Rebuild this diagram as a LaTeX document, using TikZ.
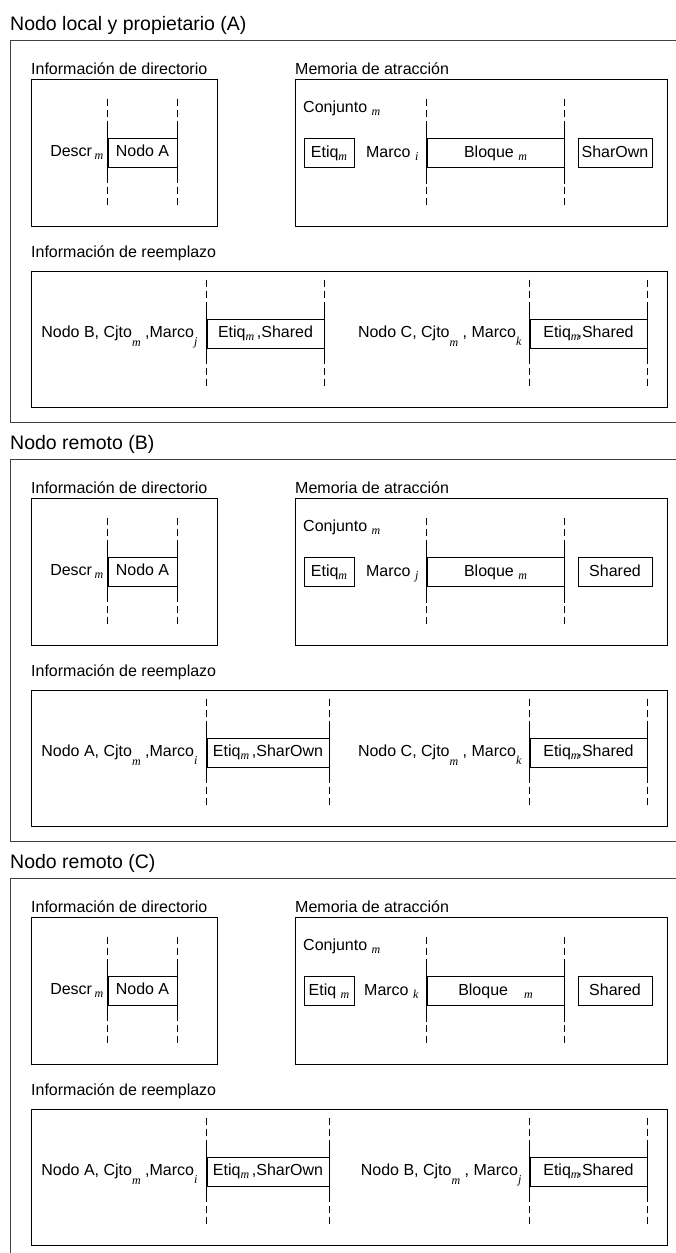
\documentclass[tikz,border=0pt]{standalone}
\usepackage{fontspec}
\setmainfont{Liberation Sans}
\newfontfamily\subfnt{Liberation Serif}
\usetikzlibrary{positioning}

\tikzset{
  marco/.style={draw=black!75, line width=1pt},
  caja/.style={draw, line width=0.8pt},
  celda/.style={draw, line width=0.8pt, minimum height=29pt, inner sep=0pt,
    text height=11.5pt, text depth=3.4pt},
  texto/.style={inner sep=0pt, text height=11.5pt, text depth=3.4pt},
  rotulo/.style={inner sep=0pt, anchor=west, text height=11.5pt, text depth=3.4pt},
  titulo/.style={inner sep=0pt, anchor=west, font=\fontsize{19.5}{23}\selectfont},
  guia/.style={line width=0.6pt, dash pattern=on 7pt off 4pt},
  lado/.style={line width=0.8pt}
}

% subindice rebajado, sin altura ni profundidad
\newcommand{\sbx}[2][3pt]{\raisebox{-#1}[0pt][0pt]{\subfnt\itshape\fontsize{12}{12}\selectfont #2}}
% lineas de trazos a los lados de una celda
\newcommand{\guias}[1]{%
  \draw[guia] ([yshift=39pt]#1.north west) -- ([yshift=-40pt]#1.south west);
  \draw[guia] ([yshift=39pt]#1.north east) -- ([yshift=-40pt]#1.south east);
  \draw[lado] ([yshift=16pt]#1.north west) -- ([yshift=-16pt]#1.south west);
  \draw[lado] ([yshift=16pt]#1.north east) -- ([yshift=-16pt]#1.south east);}

\begin{document}
\begin{tikzpicture}[x=1pt, y=-1pt, font=\fontsize{16}{19}\selectfont]
  \useasboundingbox (0,0) rectangle (676,1253);

  % Nodo A
  \begin{scope}[shift={(0,40)}]
    \node[titulo] (tA) at (10,-15) {Nodo local y propietario (A)};
    \draw[marco] (676,0) -- (10,0) -- (10,382) -- (676,382);

    \node[rotulo] (ldA) at (31,30) {Información de directorio};
    \draw[caja] (31,39) rectangle (217,186);
    \node[celda, minimum width=69pt] (nA) at (142.5,112.5) {Nodo A};
    \node[texto, left=4pt of nA] (dsA) {Descr\,\sbx{m}};
    \guias{nA}

    \node[rotulo] (lmA) at (295,30) {Memoria de atracción};
    \draw[caja] (295,39) rectangle (667,186);
    \node[texto, anchor=west] (cjA) at (303,68) {Conjunto\ \sbx{m}};
    \node[celda, minimum width=50pt] (etA) at (329,113) {Etiq\sbx{m}};
    \node[celda, minimum width=137pt] (blA) at (495.5,113) {Bloque\ \sbx{m}};
    \node[texto, left=8pt of blA] (mcA) {Marco\ \sbx{i}};
    \guias{blA}
    \node[celda, minimum width=74pt] (esA) at (615,113) {SharOwn};

    \node[rotulo] (lrA) at (31,213) {Información de reemplazo};
    \draw[caja] (31,231) rectangle (667,367);
    \node[celda, minimum width=117pt] (r1A) at (265.5,293.5) {Etiq\sbx{m}\,,Shared};
    \node[texto, left=9pt of r1A] (t1A) {Nodo B, Cjto\sbx[9pt]{m} ,Marco\sbx[8pt]{j}};
    \guias{r1A}
    \node[celda, minimum width=117pt] (r2A) at (588.5,293.5) {Etiq\sbx{m}\kern-2pt,Shared};
    \node[texto, left=8pt of r2A] (t2A) {Nodo C, Cjto\sbx[9pt]{m}\ , Marco\sbx[8pt]{k}};
    \guias{r2A}
  \end{scope}

  % Nodo B
  \begin{scope}[shift={(0,459)}]
    \node[titulo] (tB) at (10,-15) {Nodo remoto (B)};
    \draw[marco] (676,0) -- (10,0) -- (10,382) -- (676,382);

    \node[rotulo] (ldB) at (31,30) {Información de directorio};
    \draw[caja] (31,39) rectangle (217,186);
    \node[celda, minimum width=69pt] (nB) at (142.5,112.5) {Nodo A};
    \node[texto, left=4pt of nB] (dsB) {Descr\,\sbx{m}};
    \guias{nB}

    \node[rotulo] (lmB) at (295,30) {Memoria de atracción};
    \draw[caja] (295,39) rectangle (667,186);
    \node[texto, anchor=west] (cjB) at (303,68) {Conjunto\ \sbx{m}};
    \node[celda, minimum width=50pt] (etB) at (329,113) {Etiq\sbx{m}};
    \node[celda, minimum width=137pt] (blB) at (495.5,113) {Bloque\ \sbx{m}};
    \node[texto, left=8pt of blB] (mcB) {Marco\ \sbx{j}};
    \guias{blB}
    \node[celda, minimum width=74pt] (esB) at (615,113) {Shared};

    \node[rotulo] (lrB) at (31,213) {Información de reemplazo};
    \draw[caja] (31,231) rectangle (667,367);
    \node[celda, minimum width=122pt] (r1B) at (268,293.5) {Etiq\sbx{m}\,,SharOwn};
    \node[texto, left=9pt of r1B] (t1B) {Nodo A, Cjto\sbx[9pt]{m} ,Marco\sbx[8pt]{i}};
    \guias{r1B}
    \node[celda, minimum width=117pt] (r2B) at (588.5,293.5) {Etiq\sbx{m}\kern-2pt,Shared};
    \node[texto, left=8pt of r2B] (t2B) {Nodo C, Cjto\sbx[9pt]{m}\ , Marco\sbx[8pt]{k}};
    \guias{r2B}
  \end{scope}

  % Nodo C
  \begin{scope}[shift={(0,878)}]
    \node[titulo] (tC) at (10,-15) {Nodo remoto (C)};
    \draw[marco] (676,0) -- (10,0) -- (10,375);

    \node[rotulo] (ldC) at (31,30) {Información de directorio};
    \draw[caja] (31,39) rectangle (217,186);
    \node[celda, minimum width=69pt] (nC) at (142.5,112.5) {Nodo A};
    \node[texto, left=4pt of nC] (dsC) {Descr\,\sbx{m}};
    \guias{nC}

    \node[rotulo] (lmC) at (295,30) {Memoria de atracción};
    \draw[caja] (295,39) rectangle (667,186);
    \node[texto, anchor=west] (cjC) at (303,68) {Conjunto\ \sbx{m}};
    \node[celda, minimum width=50pt] (etC) at (329,113) {Etiq\ \sbx{m}};
    \node[celda, minimum width=137pt] (blC) at (495.5,113) {Bloque\quad\sbx{m}};
    \node[texto, left=8pt of blC] (mcC) {Marco\ \sbx{k}};
    \guias{blC}
    \node[celda, minimum width=74pt] (esC) at (615,113) {Shared};

    \node[rotulo] (lrC) at (31,213) {Información de reemplazo};
    \draw[caja] (31,231) rectangle (667,367);
    \node[celda, minimum width=122pt] (r1C) at (268,293.5) {Etiq\sbx{m}\,,SharOwn};
    \node[texto, left=9pt of r1C] (t1C) {Nodo A, Cjto\sbx[9pt]{m} ,Marco\sbx[8pt]{i}};
    \guias{r1C}
    \node[celda, minimum width=117pt] (r2C) at (588.5,293.5) {Etiq\sbx{m}\kern-2pt,Shared};
    \node[texto, left=8pt of r2C] (t2C) {Nodo B, Cjto\sbx[9pt]{m}\ , Marco\sbx[8pt]{j}};
    \guias{r2C}
  \end{scope}
\end{tikzpicture}
\end{document}
